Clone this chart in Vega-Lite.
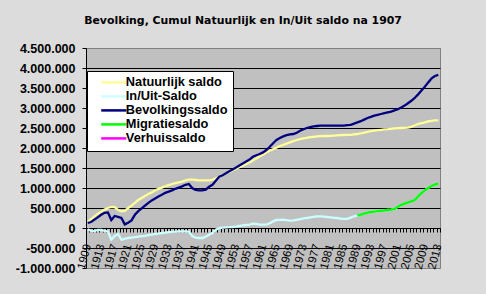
{
  "$schema": "https://vega.github.io/schema/vega-lite/v6.json",
  "width": 354,
  "height": 220,
  "autosize": "none",
  "padding": {"left": 86, "top": 48, "right": 46, "bottom": 26},
  "background": "#DCDCDC",
  "title": {
    "text": "Bevolking, Cumul Natuurlijk en In/Uit saldo na 1907",
    "font": "DejaVu Sans",
    "fontSize": 10.9,
    "fontWeight": "bold",
    "color": "black",
    "anchor": "middle",
    "frame": "group",
    "dx": -20,
    "offset": 7,
    "baseline": "alphabetic"
  },
  "config": {
    "locale": {"number": {"decimal": ",", "thousands": ".", "grouping": [3], "currency": ["€", ""], "minus": "-"}},
    "view": {"fill": "#C0C0C0", "stroke": "#808080", "strokeWidth": 1}
  },
  "data": {
    "values": [
      {"j":1909,"N":150000,"I":-30000,"B":125000},
      {"j":1910,"N":220000,"I":-70000,"B":150000},
      {"j":1911,"N":290000,"I":-80000,"B":210000},
      {"j":1912,"N":350000,"I":-50000,"B":270000},
      {"j":1913,"N":410000,"I":-45000,"B":330000},
      {"j":1914,"N":460000,"I":-70000,"B":380000},
      {"j":1915,"N":500000,"I":-85000,"B":390000},
      {"j":1916,"N":525000,"I":-290000,"B":200000},
      {"j":1917,"N":520000,"I":-200000,"B":300000},
      {"j":1918,"N":450000,"I":-150000,"B":280000},
      {"j":1919,"N":415000,"I":-290000,"B":250000},
      {"j":1920,"N":430000,"I":-270000,"B":90000},
      {"j":1921,"N":500000,"I":-250000,"B":130000},
      {"j":1922,"N":560000,"I":-240000,"B":190000},
      {"j":1923,"N":630000,"I":-230000,"B":330000},
      {"j":1924,"N":700000,"I":-215000,"B":420000},
      {"j":1925,"N":750000,"I":-205000,"B":490000},
      {"j":1926,"N":800000,"I":-195000,"B":560000},
      {"j":1927,"N":850000,"I":-180000,"B":630000},
      {"j":1928,"N":890000,"I":-165000,"B":690000},
      {"j":1929,"N":940000,"I":-150000,"B":740000},
      {"j":1930,"N":980000,"I":-140000,"B":790000},
      {"j":1931,"N":1010000,"I":-125000,"B":830000},
      {"j":1932,"N":1040000,"I":-115000,"B":880000},
      {"j":1933,"N":1070000,"I":-105000,"B":910000},
      {"j":1934,"N":1100000,"I":-95000,"B":940000},
      {"j":1935,"N":1120000,"I":-90000,"B":980000},
      {"j":1936,"N":1140000,"I":-85000,"B":1010000},
      {"j":1937,"N":1160000,"I":-85000,"B":1040000},
      {"j":1938,"N":1190000,"I":-85000,"B":1080000},
      {"j":1939,"N":1210000,"I":-90000,"B":1100000},
      {"j":1940,"N":1210000,"I":-200000,"B":1000000},
      {"j":1941,"N":1200000,"I":-240000,"B":950000},
      {"j":1942,"N":1190000,"I":-250000,"B":940000},
      {"j":1943,"N":1190000,"I":-250000,"B":940000},
      {"j":1944,"N":1190000,"I":-220000,"B":960000},
      {"j":1945,"N":1190000,"I":-170000,"B":1030000},
      {"j":1946,"N":1200000,"I":-125000,"B":1080000},
      {"j":1947,"N":1240000,"I":-40000,"B":1180000},
      {"j":1948,"N":1290000,"I":0,"B":1280000},
      {"j":1949,"N":1330000,"I":10000,"B":1320000},
      {"j":1950,"N":1370000,"I":15000,"B":1370000},
      {"j":1951,"N":1410000,"I":20000,"B":1420000},
      {"j":1952,"N":1440000,"I":25000,"B":1460000},
      {"j":1953,"N":1480000,"I":35000,"B":1510000},
      {"j":1954,"N":1520000,"I":55000,"B":1560000},
      {"j":1955,"N":1560000,"I":65000,"B":1610000},
      {"j":1956,"N":1600000,"I":75000,"B":1660000},
      {"j":1957,"N":1640000,"I":85000,"B":1710000},
      {"j":1958,"N":1690000,"I":110000,"B":1780000},
      {"j":1959,"N":1740000,"I":100000,"B":1820000},
      {"j":1960,"N":1790000,"I":82000,"B":1850000},
      {"j":1961,"N":1840000,"I":82000,"B":1890000},
      {"j":1962,"N":1890000,"I":82000,"B":1950000},
      {"j":1963,"N":1930000,"I":120000,"B":2030000},
      {"j":1964,"N":1970000,"I":165000,"B":2120000},
      {"j":1965,"N":2010000,"I":200000,"B":2200000},
      {"j":1966,"N":2050000,"I":205000,"B":2250000},
      {"j":1967,"N":2080000,"I":207000,"B":2290000},
      {"j":1968,"N":2110000,"I":195000,"B":2320000},
      {"j":1969,"N":2140000,"I":185000,"B":2340000},
      {"j":1970,"N":2170000,"I":190000,"B":2350000},
      {"j":1971,"N":2200000,"I":205000,"B":2380000},
      {"j":1972,"N":2220000,"I":220000,"B":2430000},
      {"j":1973,"N":2240000,"I":240000,"B":2470000},
      {"j":1974,"N":2255000,"I":250000,"B":2500000},
      {"j":1975,"N":2270000,"I":265000,"B":2520000},
      {"j":1976,"N":2280000,"I":280000,"B":2540000},
      {"j":1977,"N":2290000,"I":290000,"B":2550000},
      {"j":1978,"N":2295000,"I":290000,"B":2560000},
      {"j":1979,"N":2300000,"I":285000,"B":2560000},
      {"j":1980,"N":2300000,"I":275000,"B":2560000},
      {"j":1981,"N":2305000,"I":265000,"B":2560000},
      {"j":1982,"N":2310000,"I":255000,"B":2560000},
      {"j":1983,"N":2315000,"I":250000,"B":2560000},
      {"j":1984,"N":2320000,"I":235000,"B":2560000},
      {"j":1985,"N":2325000,"I":230000,"B":2560000},
      {"j":1986,"N":2330000,"I":230000,"B":2570000},
      {"j":1987,"N":2330000,"I":260000,"B":2580000},
      {"j":1988,"N":2340000,"I":290000,"B":2610000},
      {"j":1989,"N":2350000,"I":310000,"B":2640000,"M":310000},
      {"j":1990,"N":2365000,"I":335000,"B":2670000,"M":335000},
      {"j":1991,"N":2385000,"I":360000,"B":2710000,"M":360000},
      {"j":1992,"N":2405000,"I":385000,"B":2750000,"M":385000},
      {"j":1993,"N":2420000,"I":400000,"B":2780000,"M":400000},
      {"j":1994,"N":2435000,"I":410000,"B":2810000,"M":410000},
      {"j":1995,"N":2445000,"I":420000,"B":2830000,"M":420000},
      {"j":1996,"N":2455000,"I":430000,"B":2850000,"M":430000},
      {"j":1997,"N":2465000,"I":440000,"B":2870000,"M":440000},
      {"j":1998,"N":2470000,"I":450000,"B":2890000,"M":450000},
      {"j":1999,"N":2480000,"I":460000,"B":2910000,"M":460000},
      {"j":2000,"N":2490000,"I":475000,"B":2940000,"M":475000},
      {"j":2001,"N":2495000,"I":530000,"B":2970000,"M":530000},
      {"j":2002,"N":2500000,"I":580000,"B":3010000,"M":580000},
      {"j":2003,"N":2505000,"I":610000,"B":3060000,"M":610000},
      {"j":2004,"N":2510000,"I":640000,"B":3120000,"M":640000},
      {"j":2005,"N":2530000,"I":665000,"B":3180000,"M":665000},
      {"j":2006,"N":2570000,"I":700000,"B":3250000,"M":700000},
      {"j":2007,"N":2600000,"I":790000,"B":3340000,"M":790000},
      {"j":2008,"N":2620000,"I":870000,"B":3440000,"M":870000},
      {"j":2009,"N":2640000,"I":940000,"B":3530000,"M":940000},
      {"j":2010,"N":2665000,"I":1000000,"B":3640000,"M":1000000},
      {"j":2011,"N":2680000,"I":1050000,"B":3740000,"M":1050000},
      {"j":2012,"N":2690000,"I":1090000,"B":3800000,"M":1090000},
      {"j":2013,"N":2690000,"I":1100000,"B":3830000,"M":1100000}
    ]
  },
  "transform": [{"fold": ["N", "I", "B", "M"], "as": ["reeks", "waarde"]}],
  "mark": {"type": "line", "strokeWidth": 2.3, "interpolate": "linear"},
  "encoding": {
    "x": {
      "field": "j",
      "type": "ordinal",
      "bandPosition": 0.5,
      "scale": {"type": "band", "paddingInner": 0, "paddingOuter": 0},
      "axis": {
        "title": null,
        "offset": -40,
        "domainColor": "black",
        "domainWidth": 1,
        "tickColor": "black",
        "tickSize": 4,
        "tickBand": "extent",
        "grid": false,
        "labelExpr": "(datum.value - 1909) % 4 === 0 ? datum.label : ''",
        "labelOverlap": false,
        "labelBound": false,
        "labelAngle": -75,
        "labelAlign": "right",
        "labelBaseline": "middle",
        "labelPadding": 12,
        "labelFont": "Liberation Sans",
        "labelFontSize": 11.5,
        "labelColor": "black"
      }
    },
    "y": {
      "field": "waarde",
      "type": "quantitative",
      "scale": {"domain": [-1000000, 4500000], "nice": false, "zero": false},
      "axis": {
        "title": null,
        "values": [-1000000, -500000, 0, 500000, 1000000, 1500000, 2000000, 2500000, 3000000, 3500000, 4000000, 4500000],
        "format": ",d",
        "grid": true,
        "gridColor": {"condition": {"test": "datum.value === 4500000 || datum.value === -1000000", "value": "#808080"}, "value": "black"},
        "gridOpacity": 1,
        "gridWidth": 1,
        "domainColor": "black",
        "tickColor": "black",
        "tickSize": 4,
        "labelPadding": 7,
        "labelFont": "Liberation Sans",
        "labelFontSize": 12.5,
        "labelFontWeight": "bold",
        "labelColor": "black"
      }
    },
    "color": {
      "field": "reeks",
      "type": "nominal",
      "scale": {
        "domain": ["N", "I", "B", "M", "V"],
        "range": ["#FFFF99", "#CCFFFF", "#000080", "#00FF00", "#FF00FF"]
      },
      "legend": {
        "title": null,
        "orient": "none",
        "legendX": 1,
        "legendY": 23,
        "fillColor": "white",
        "strokeColor": "black",
        "padding": 5,
        "symbolType": "M-1,0H5",
        "symbolSize": 70,
        "symbolStrokeWidth": 2.5,
        "symbolOffset": 7,
        "labelOffset": 14,
        "rowPadding": -0.6,
        "labelFont": "Liberation Sans",
        "labelFontSize": 12.8,
        "labelFontWeight": "bold",
        "labelColor": "black",
        "labelExpr": "datum.value === 'N' ? 'Natuurlijk saldo' : datum.value === 'I' ? 'In/Uit-Saldo' : datum.value === 'B' ? 'Bevolkingssaldo' : datum.value === 'M' ? 'Migratiesaldo' : 'Verhuissaldo'"
      }
    }
  }
}
